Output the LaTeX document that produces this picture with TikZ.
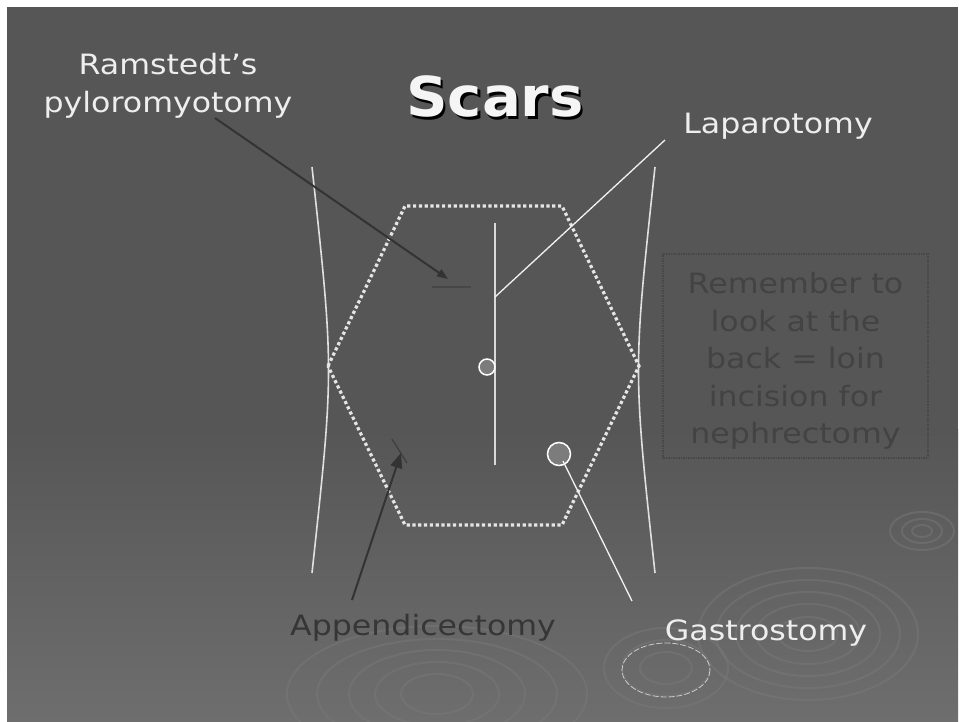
\documentclass[tikz,border=0pt]{standalone}
\usepackage{fontspec}
\setmainfont[FakeStretch=1.13]{DejaVu Sans}
\newfontfamily\titlefont[FakeStretch=1.05]{DejaVu Sans}
\usetikzlibrary{arrows.meta}
\definecolor{bgtop}{HTML}{565656}
\definecolor{bgbot}{HTML}{6E6E6E}
\definecolor{lighttext}{HTML}{EEEEEE}
\definecolor{darktext}{HTML}{363636}
\definecolor{notetext}{HTML}{434343}
\definecolor{ripple}{HTML}{7A7A7A}
\definecolor{scarfill}{HTML}{7C7C7C}
\tikzset{
  lbl/.style={font=\fontsize{28}{37}\selectfont, inner sep=0pt, anchor=base},
  bodyline/.style={draw=white!88!black, line width=1.6pt},
  hexline/.style={draw=white!90!black, line width=3.2pt, dash pattern=on 3.2pt off 2.6pt},
  darkarrow/.style={draw=black!80, line width=2pt},
  whiteptr/.style={draw=white!95!black, line width=1.3pt},
  scarcircle/.style={circle, draw=white, line width=1.5pt, fill=scarfill, inner sep=0pt},
  rip/.style={draw=ripple, line width=2pt, opacity=0.45},
}
\newcommand{\shadowtext}[1]{\makebox[0pt][l]{\hspace{2.5pt}\raisebox{-2.5pt}{\color{black}#1}}#1}
\begin{document}
\begin{tikzpicture}[x=1pt,y=-1pt]
\useasboundingbox (0,0) rectangle (959,722);
\fill[white] (0,0) rectangle (959,722);
% slide background
\fill[bgtop] (7,7) rectangle (958,430);
\shade[top color=bgtop, bottom color=bgbot] (7,429) rectangle (958,722);
% ripples
\begin{scope}
\foreach \r/\s in {110/66, 92/54, 72/42, 52/30, 30/17}
  \draw[rip] (808,634) ellipse ({\r} and {\s});
\foreach \r/\s in {150/68, 120/55, 88/44, 62/32, 36/20}
  \draw[rip] (437,694) ellipse ({\r} and {\s});
\foreach \r/\s in {62/40, 44/28, 26/16}
  \draw[rip] (666,668) ellipse ({\r} and {\s});
\draw[white!80!black, line width=0.8pt, dash pattern=on 6pt off 2pt] (666,670) ellipse (44 and 27);
\foreach \r/\s in {32/19, 20/12, 10/6}
  \draw[rip] (922,531) ellipse ({\r} and {\s});
\end{scope}
% body outline
\coordinate (lt) at (312,167); \coordinate (lb) at (312,573);
\coordinate (rt) at (655,167); \coordinate (rb) at (655,573);
\draw[bodyline] (lt) .. controls (334,370) .. (lb);
\draw[bodyline] (rt) .. controls (633,370) .. (rb);
% hexagon
\coordinate (h1) at (328,366); \coordinate (h2) at (405,206);
\coordinate (h3) at (562,206); \coordinate (h4) at (639,366);
\coordinate (h5) at (562,525); \coordinate (h6) at (405,525);
\draw[hexline] (h1) -- (h2) -- (h3) -- (h4) -- (h5) -- (h6) -- cycle;
% midline laparotomy scar
\coordinate (mt) at (495,223); \coordinate (mb) at (495,465);
\draw[draw=white!85!black, line width=2pt] (mt) -- (mb);
% umbilical port and gastrostomy
\node[scarcircle, minimum size=16pt] (port) at (487,367) {};
\node[scarcircle, minimum size=23pt] (gastro) at (559,454) {};
% Ramstedt scar
\coordinate (ra) at (432,287); \coordinate (rb2) at (471,287);
\draw[draw=black!72, line width=1.6pt] (ra) -- (rb2);
% appendix scar
\coordinate (aa) at (392,439); \coordinate (ab) at (407,463);
\draw[draw=black!75, line width=1.4pt] (aa) -- (ab);
% labels
\node[lbl, text=lighttext] (ram1) at (168,75) {Ramstedt’s};
\node[lbl, text=lighttext] (ram2) at (168,113) {pyloromyotomy};
\node[lbl, text=white!96!black, font=\fontsize{55}{60}\selectfont\titlefont\bfseries] (title) at (495,117) {\shadowtext{Scars}};
\node[lbl, text=lighttext] (lapa) at (778,134) {Laparotomy};
\node[lbl, text=darktext] (appe) at (423,635) {Appendicectomy};
\node[lbl, text=lighttext] (gast) at (766,640) {Gastrostomy};
% note box
\node[draw=black!72, line width=1.5pt, densely dotted, minimum width=265pt, minimum height=204pt, inner sep=0pt] (notebox) at (795.5,356) {};
\node[font=\fontsize{28}{37.6}\selectfont, text=notetext, align=center, inner sep=0pt] (note) at (795.5,361)
  {Remember to\\look at the\\back = loin\\incision for\\nephrectomy};
% connectors
\coordinate (ramstart) at (215,118);
\coordinate (ramtip) at (448,279);
\draw[darkarrow, -{Triangle[length=11pt,width=8pt]}] (ramstart) -- (ramtip);
\coordinate (lapend) at (665,140);
\coordinate (lapjoin) at (495,297);
\draw[whiteptr] (lapjoin) -- (lapend);
\coordinate (appstart) at (352,600);
\coordinate (apptip) at (401,453);
\draw[darkarrow, -{Triangle[length=15pt,width=12pt]}] (appstart) -- (apptip);
\coordinate (gastend) at (632,601);
\draw[whiteptr] (gastro.center) ++(4,7) -- (gastend);
\end{tikzpicture}
\end{document}
